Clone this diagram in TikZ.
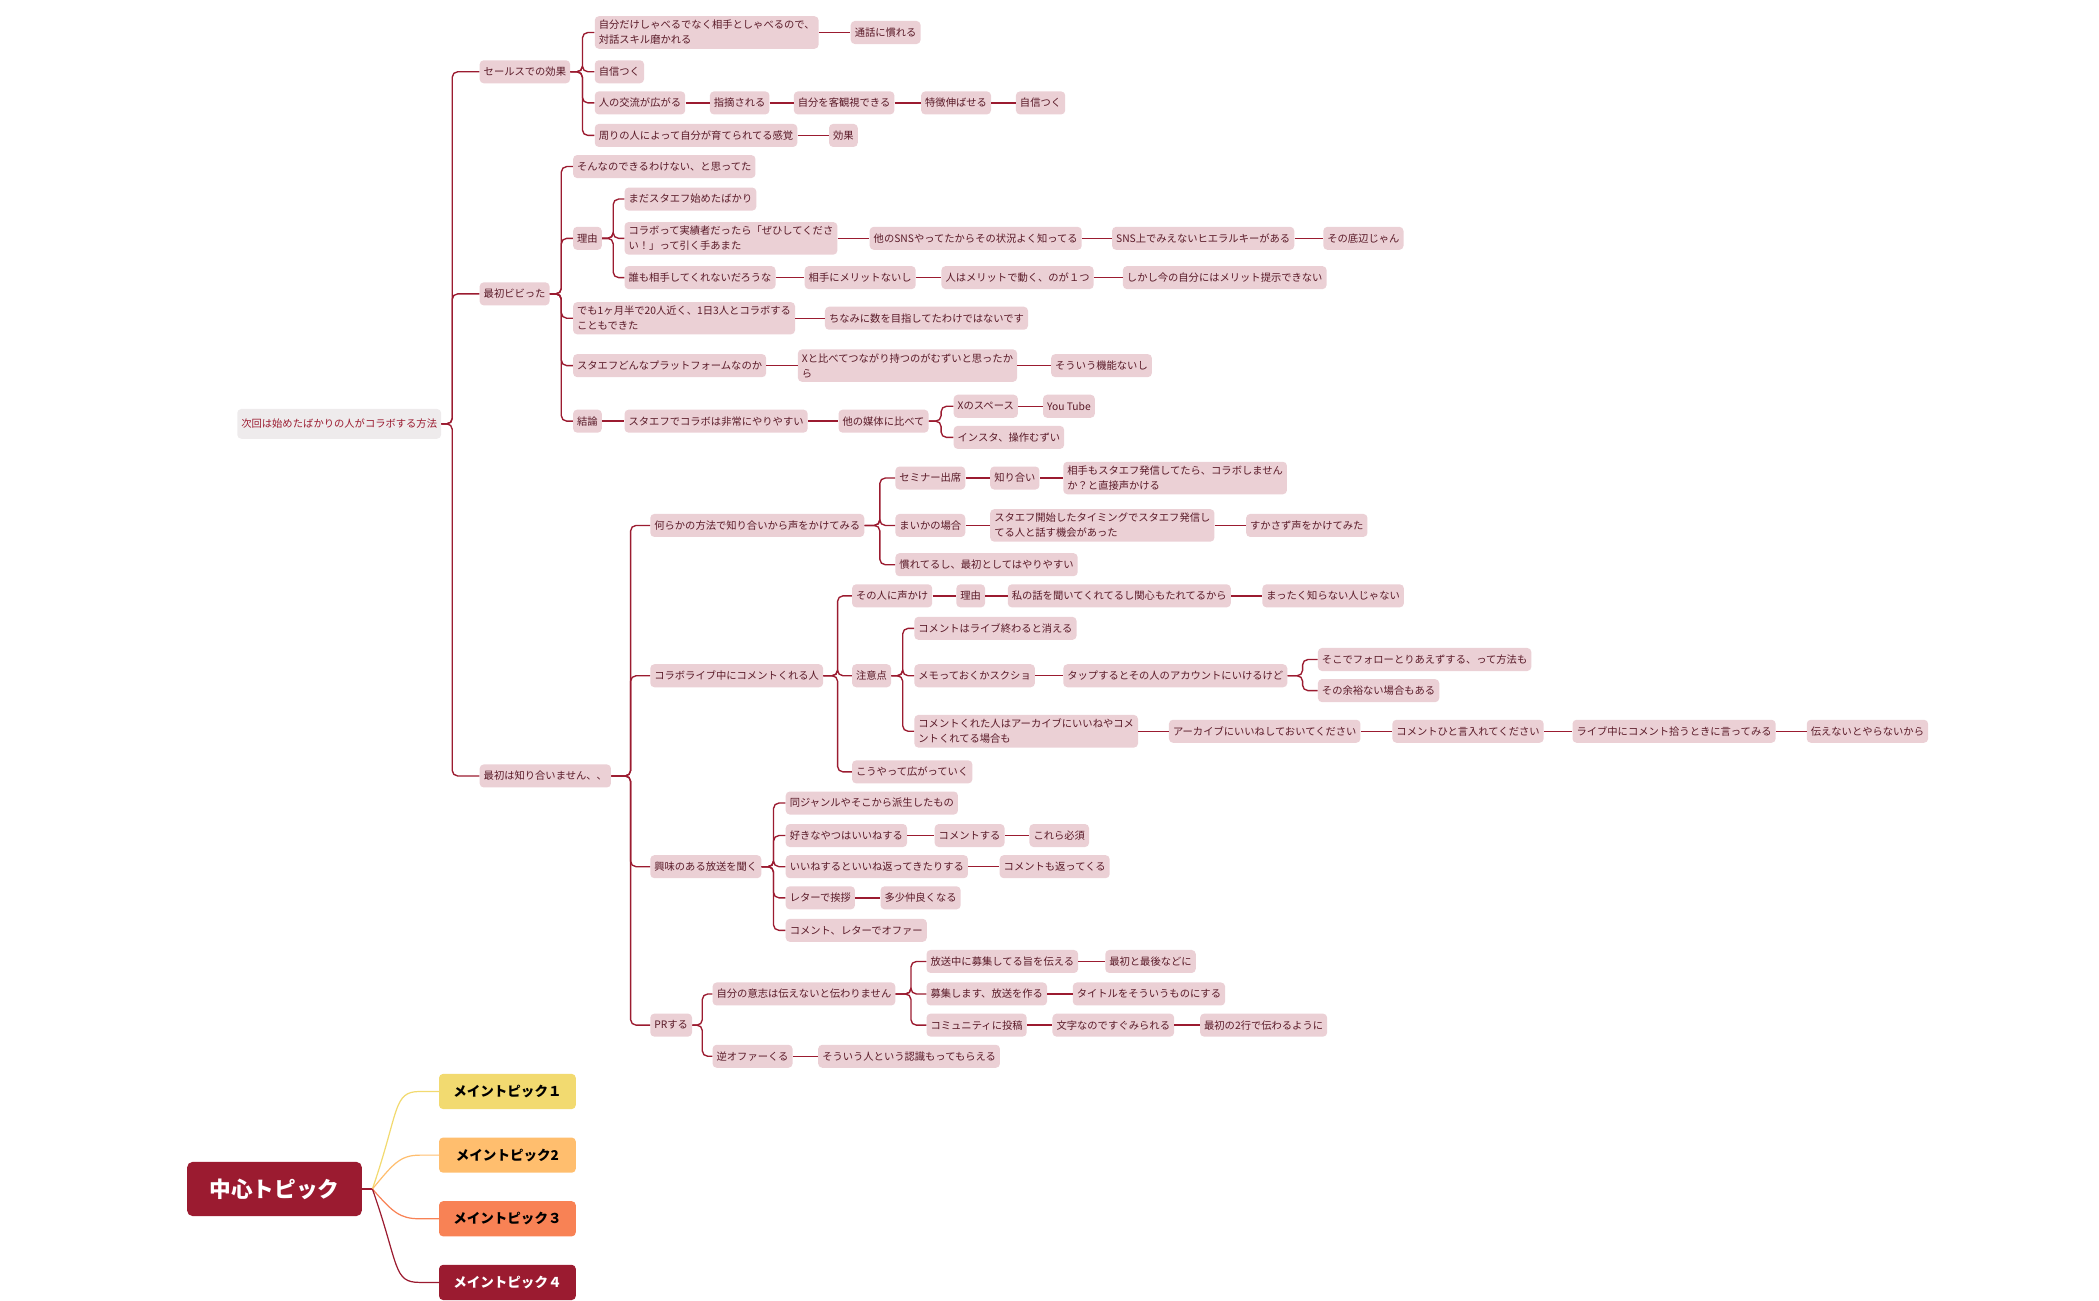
\documentclass[tikz,border=0pt]{standalone}
\usepackage{fontspec}
\newfontfamily\cjk{Noto Sans CJK JP}
\usetikzlibrary{calc}
\definecolor{bx}{HTML}{EBD0D5}
\definecolor{tx}{HTML}{5A1A28}
\definecolor{ln}{HTML}{9B1B30}
\definecolor{rt}{HTML}{EEEBEC}
\tikzset{x=1pt,y=-1pt,
 b/.style={anchor=west,fill=bx,rounded corners=3pt,text=tx,inner xsep=3pt,inner ysep=3pt,minimum height=17pt,font=\cjk\fontsize{7.6}{11}\selectfont,align=left},
 lnk/.style={draw=ln,line width=1pt,rounded corners=4pt},
 sl/.style={draw=ln,line width=1pt},
 mt/.style={anchor=west,rounded corners=3pt,minimum width=101pt,minimum height=26pt,font=\cjk\bfseries\fontsize{10}{12}\selectfont}}
\newcommand\cn[2]{\path ($(#1.east)!.5!(#2.west)$) coordinate (tmp); \draw[lnk] (#1.east) -- (#1.east -| tmp) |- (#2.west);}
\newcommand\cs[2]{\draw[sl] (#1.east) -- (#2.west);}
\begin{document}
\begin{tikzpicture}
\useasboundingbox (0,0) rectangle (1550,960);
\node[b,fill=rt,text=ln,minimum height=22pt] (r) at (175,313) {次回は始めたばかりの人がコラボする方法};
\node[b] (A) at (354,53) {セールスでの効果};
\node[b] (B) at (354,217) {最初ビビった};
\node[b] (C) at (354,573) {最初は知り合いません、、};
\foreach \c in {A,B,C} {\path (r.east) -- ++(8,0) coordinate (t); \draw[lnk] (r.east) -- (t) |- (\c.west);}
% A
\node[b] (A1) at (439,24) {自分だけしゃべるでなく相手としゃべるので、\\対話スキル磨かれる};
\node[b] (A1a) at (628,24) {通話に慣れる};
\node[b] (A2) at (439,53) {自信つく};
\node[b] (A3) at (439,76) {人の交流が広がる};
\node[b] (A3a) at (524,76) {指摘される};
\node[b] (A3b) at (586,76) {自分を客観視できる};
\node[b] (A3c) at (680,76) {特徴伸ばせる};
\node[b] (A3d) at (750,76) {自信つく};
\node[b] (A4) at (439,100) {周りの人によって自分が育てられてる感覚};
\node[b] (A4a) at (612,100) {効果};
\cn{A}{A1}\cn{A}{A2}\cn{A}{A3}\cn{A}{A4}\cs{A1}{A1a}\cs{A3}{A3a}\cs{A3a}{A3b}\cs{A3b}{A3c}\cs{A3c}{A3d}\cs{A4}{A4a}
% B
\node[b] (B1) at (423,123) {そんなのできるわけない、と思ってた};
\node[b] (B2) at (423,176) {理由};
\node[b] (B21) at (461,147) {まだスタエフ始めたばかり};
\node[b] (B22) at (461,176) {コラボって実績者だったら「ぜひしてくださ\\い！」って引く手あまた};
\node[b] (B22a) at (642,176) {他のSNSやってたからその状況よく知ってる};
\node[b] (B22b) at (821,176) {SNS上でみえないヒエラルキーがある};
\node[b] (B22c) at (977,176) {その底辺じゃん};
\node[b] (B23) at (461,205) {誰も相手してくれないだろうな};
\node[b] (B23a) at (594,205) {相手にメリットないし};
\node[b] (B23b) at (695,205) {人はメリットで動く、のが１つ};
\node[b] (B23c) at (829,205) {しかし今の自分にはメリット提示できない};
\node[b] (B3) at (423,235) {でも1ヶ月半で20人近く、1日3人とコラボする\\こともできた};
\node[b] (B3a) at (609,235) {ちなみに数を目指してたわけではないです};
\node[b] (B4) at (423,270) {スタエフどんなプラットフォームなのか};
\node[b] (B4a) at (589,270) {Xと比べてつながり持つのがむずいと思ったか\\ら};
\node[b] (B4b) at (776,270) {そういう機能ないし};
\node[b] (B5) at (423,311) {結論};
\node[b] (B5a) at (461,311) {スタエフでコラボは非常にやりやすい};
\node[b] (B5b) at (619,311) {他の媒体に比べて};
\node[b] (B5c) at (704,300) {Xのスペース};
\node[b] (B5e) at (770,300) {You Tube};
\node[b] (B5d) at (704,323) {インスタ、操作むずい};
\cn{B}{B1}\cn{B}{B2}\cn{B}{B3}\cn{B}{B4}\cn{B}{B5}
\cn{B2}{B21}\cn{B2}{B22}\cn{B2}{B23}\cs{B22}{B22a}\cs{B22a}{B22b}\cs{B22b}{B22c}
\cs{B23}{B23a}\cs{B23a}{B23b}\cs{B23b}{B23c}\cs{B3}{B3a}\cs{B4}{B4a}\cs{B4a}{B4b}
\cs{B5}{B5a}\cs{B5a}{B5b}\cn{B5b}{B5c}\cn{B5b}{B5d}\cs{B5c}{B5e}
% C
\node[b] (C1) at (480,388) {何らかの方法で知り合いから声をかけてみる};
\node[b] (C11) at (661,353) {セミナー出席};
\node[b] (C11a) at (731,353) {知り合い};
\node[b] (C11b) at (785,353) {相手もスタエフ発信してたら、コラボしません\\か？と直接声かける};
\node[b] (C12) at (661,388) {まいかの場合};
\node[b] (C12a) at (731,388) {スタエフ開始したタイミングでスタエフ発信し\\てる人と話す機会があった};
\node[b] (C12b) at (920,388) {すかさず声をかけてみた};
\node[b] (C13) at (661,417) {慣れてるし、最初としてはやりやすい};
\node[b] (C2) at (480,499) {コラボライブ中にコメントくれる人};
\node[b] (C21) at (629,440) {その人に声かけ};
\node[b] (C21a) at (706,440) {理由};
\node[b] (C21b) at (744,440) {私の話を聞いてくれてるし関心もたれてるから};
\node[b] (C21c) at (932,440) {まったく知らない人じゃない};
\node[b] (C22) at (629,499) {注意点};
\node[b] (C221) at (675,464) {コメントはライブ終わると消える};
\node[b] (C222) at (675,499) {メモっておくかスクショ};
\node[b] (C222a) at (785,499) {タップするとその人のアカウントにいけるけど};
\node[b] (C222b) at (973,487) {そこでフォローとりあえずする、って方法も};
\node[b] (C222c) at (973,510) {その余裕ない場合もある};
\node[b] (C223) at (675,540) {コメントくれた人はアーカイブにいいねやコメ\\ントくれてる場合も};
\node[b] (C223a) at (863,540) {アーカイブにいいねしておいてください};
\node[b] (C223b) at (1028,540) {コメントひと言入れてください};
\node[b] (C223c) at (1161,540) {ライブ中にコメント拾うときに言ってみる};
\node[b] (C223d) at (1334,540) {伝えないとやらないから};
\node[b] (C23) at (629,570) {こうやって広がっていく};
\node[b] (C3) at (480,640) {興味のある放送を聞く};
\node[b] (C31) at (580,593) {同ジャンルやそこから派生したもの};
\node[b] (C32) at (580,617) {好きなやつはいいねする};
\node[b] (C32a) at (690,617) {コメントする};
\node[b] (C32b) at (760,617) {これら必須};
\node[b] (C33) at (580,640) {いいねするといいね返ってきたりする};
\node[b] (C33a) at (738,640) {コメントも返ってくる};
\node[b] (C34) at (580,663) {レターで挨拶};
\node[b] (C34a) at (650,663) {多少仲良くなる};
\node[b] (C35) at (580,687) {コメント、レターでオファー};
\node[b] (C4) at (480,757) {PRする};
\node[b] (C41) at (526,734) {自分の意志は伝えないと伝わりません};
\node[b] (C411) at (684,710) {放送中に募集してる旨を伝える};
\node[b] (C411a) at (816,710) {最初と最後などに};
\node[b] (C412) at (684,734) {募集します、放送を作る};
\node[b] (C412a) at (792,734) {タイトルをそういうものにする};
\node[b] (C413) at (684,757) {コミュニティに投稿};
\node[b] (C413a) at (777,757) {文字なのですぐみられる};
\node[b] (C413b) at (886,757) {最初の2行で伝わるように};
\node[b] (C42) at (526,780) {逆オファーくる};
\node[b] (C42a) at (604,780) {そういう人という認識もってもらえる};
\cn{C}{C1}\cn{C}{C2}\cn{C}{C3}\cn{C}{C4}
\cn{C1}{C11}\cn{C1}{C12}\cn{C1}{C13}\cs{C11}{C11a}\cs{C11a}{C11b}\cs{C12}{C12a}\cs{C12a}{C12b}
\cn{C2}{C21}\cn{C2}{C22}\cn{C2}{C23}\cs{C21}{C21a}\cs{C21a}{C21b}\cs{C21b}{C21c}
\cn{C22}{C221}\cn{C22}{C222}\cn{C22}{C223}\cs{C222}{C222a}\cn{C222a}{C222b}\cn{C222a}{C222c}
\cs{C223}{C223a}\cs{C223a}{C223b}\cs{C223b}{C223c}\cs{C223c}{C223d}
\cn{C3}{C31}\cn{C3}{C32}\cn{C3}{C33}\cn{C3}{C34}\cn{C3}{C35}\cs{C32}{C32a}\cs{C32a}{C32b}\cs{C33}{C33a}\cs{C34}{C34a}
\cn{C4}{C41}\cn{C4}{C42}\cn{C41}{C411}\cn{C41}{C412}\cn{C41}{C413}\cs{C411}{C411a}\cs{C412}{C412a}\cs{C413}{C413a}\cs{C413a}{C413b}\cs{C42}{C42a}
% legend
\node[anchor=west,fill=ln,text=white,rounded corners=4pt,minimum width=129pt,minimum height=40pt,font=\cjk\bfseries\fontsize{16}{18}\selectfont] (ct) at (138,878) {中心トピック};
\node[mt,fill={rgb,255:red,242;green,218;blue,112}] (m1) at (324,806) {メイントピック１};
\node[mt,fill={rgb,255:red,255;green,190;blue,110}] (m2) at (324,853) {メイントピック2};
\node[mt,fill={rgb,255:red,248;green,130;blue,85}] (m3) at (324,900) {メイントピック３};
\node[mt,fill=ln,text=white] (m4) at (324,947) {メイントピック４};
\coordinate (cj) at (275,878);
\draw[ln,line width=1pt] (ct.east) -- (cj);
\draw[line width=0.9pt,draw={rgb,255:red,242;green,218;blue,112}] (cj) .. controls (295,820) and (290,806) .. (310,806) -- (m1.west);
\draw[line width=0.9pt,draw={rgb,255:red,255;green,190;blue,110}] (cj) .. controls (290,860) and (295,853) .. (310,853) -- (m2.west);
\draw[line width=0.9pt,draw={rgb,255:red,248;green,130;blue,85}] (cj) .. controls (290,895) and (295,900) .. (310,900) -- (m3.west);
\draw[line width=0.9pt,draw=ln] (cj) .. controls (295,935) and (290,947) .. (310,947) -- (m4.west);
\end{tikzpicture}
\end{document}
